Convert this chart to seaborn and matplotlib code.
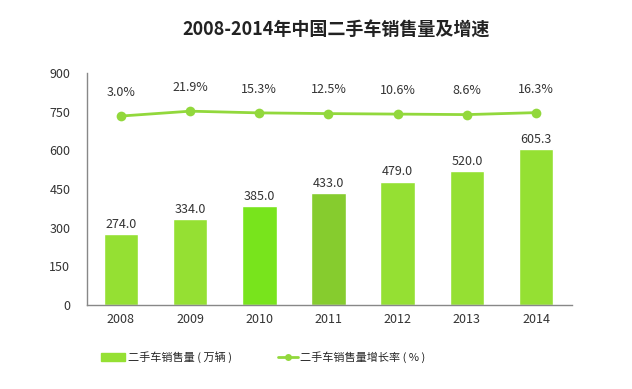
import matplotlib
matplotlib.use('Agg')
import matplotlib.pyplot as plt
import seaborn as sns
import pandas as pd
from matplotlib.patches import Patch
from matplotlib.lines import Line2D

years = ['2008', '2009', '2010', '2011', '2012', '2013', '2014']
sales = [274.0, 334.0, 385.0, 433.0, 479.0, 520.0, 605.3]
growth = [3.0, 21.9, 15.3, 12.5, 10.6, 8.6, 16.3]
bar_colors = ['#95e033', '#95e033', '#78e41c', '#86cc2e', '#95e033', '#95e033', '#95e033']
line_color = '#92d83c'

sns.set_theme(style='white')
plt.rcParams['font.family'] = ['Noto Sans CJK SC', 'DejaVu Sans']

df = pd.DataFrame({'year': years, 'sales': sales, 'growth': growth})

fig = plt.figure(figsize=(6.32, 3.89), dpi=100)
ax = fig.add_axes([87 / 632, 1 - 305 / 389, 485 / 632, 232 / 389])

sns.barplot(data=df, x='year', y='sales', hue='year', palette=bar_colors,
            width=0.5, ax=ax, legend=False, saturation=1)
for i, v in enumerate(sales):
    ax.annotate(f'{v:.1f}', (i, v), xytext=(0, 7), textcoords='offset points',
                ha='center', va='center', fontsize=9, color='#333333')

ax.set_ylim(0, 900)
ax.set_xlim(-0.49, 6.52)
ax.set_yticks(range(0, 901, 150))
ax.set_xlabel('')
ax.set_ylabel('')
ax.tick_params(axis='both', labelsize=9, colors='#333333', length=0)
ax.tick_params(axis='y', pad=12)
ax.tick_params(axis='x', pad=6)
for s in ['top', 'right']:
    ax.spines[s].set_visible(False)
for s in ['left', 'bottom']:
    ax.spines[s].set_color('#888888')
    ax.spines[s].set_linewidth(1)

# growth rate on a hidden second scale
ax2 = ax.twinx()
sns.lineplot(x=range(len(years)), y=growth, ax=ax2, color=line_color,
             marker='o', markersize=7, markeredgewidth=0, linewidth=2)
ax2.set_ylim(-730, 170)
ax2.axis('off')
for i, g in enumerate(growth):
    ax2.annotate(f'{g:.1f}%', (i, g), xytext=(0, 17), textcoords='offset points',
                 ha='center', va='center', fontsize=9, color='#333333')

fig.text(0.532, 1 - 30 / 389, '2008-2014年中国二手车销售量及增速', ha='center', va='center',
         fontsize=13, fontweight='bold', color='#222222')

leg1 = fig.legend([Patch(color='#95e033')], ['二手车销售量 ( 万辆 )'], loc='center left',
                  bbox_to_anchor=(101 / 632, 1 - 357 / 389), frameon=False, fontsize=8,
                  handlelength=2.2, handletextpad=0.2, borderpad=0, borderaxespad=0)
fig.legend([Line2D([0], [0], color=line_color, lw=2, marker='o', markersize=5, markeredgewidth=0)],
           ['二手车销售量增长率 ( % )'], loc='center left',
           bbox_to_anchor=(278 / 632, 1 - 357 / 389), frameon=False, fontsize=8,
           handlelength=1.8, handletextpad=0.2, borderpad=0, borderaxespad=0)

fig.savefig('out.png', dpi=100)
